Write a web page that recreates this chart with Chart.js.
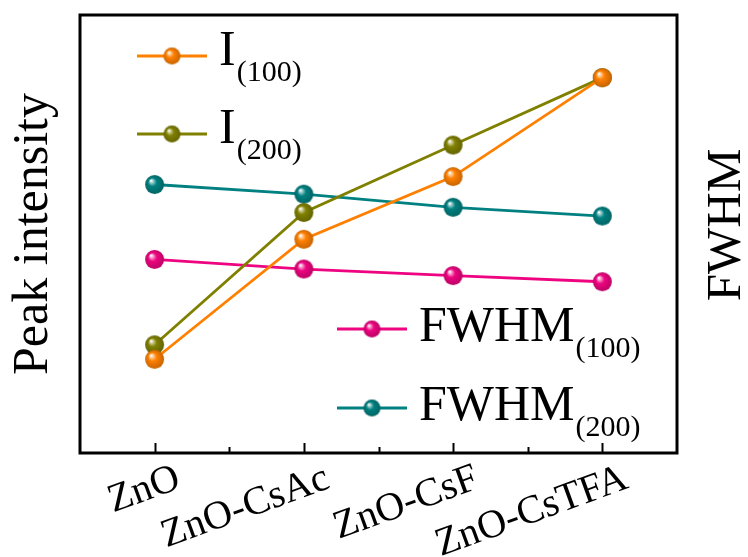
<!DOCTYPE html>
<html>
<head>
<meta charset="utf-8">
<script src="https://cdn.jsdelivr.net/npm/chart.js@4.4.1/dist/chart.umd.min.js"></script>
<style>
  html, body { margin: 0; padding: 0; background: #fff; }
  #wrap { width: 748px; height: 557px; }
</style>
</head>
<body>
<div id="wrap"><canvas id="c" width="748" height="557"></canvas></div>
<script>
// Samples on the x axis
const categories = ['ZnO', 'ZnO-CsAc', 'ZnO-CsF', 'ZnO-CsTFA'];

// Peak intensities (arb. units, left axis)
const intensity100 = [21.4, 48.8, 63.1, 85.7];
const intensity200 = [24.7, 54.9, 70.3, 85.7];

// FWHM (arb. units, right axis)
const fwhm100 = [44.2, 42.0, 40.5, 39.1];
const fwhm200 = [61.3, 59.1, 56.1, 54.1];

// Legend text: main part and subscript
const legendMain = ['I', 'I', 'FWHM', 'FWHM'];
const legendSub = ['(100)', '(200)', '(100)', '(200)'];

const SERIF = '"Liberation Serif", "Times New Roman", Times, serif';
const COLORS = ['#ff8000', '#808000', '#ee0480', '#008080'];
const LINE_W = 2.8;

function shade(hex, k) {
  const n = parseInt(hex.slice(1), 16);
  const r = Math.round(((n >> 16) & 255) * k);
  const g = Math.round(((n >> 8) & 255) * k);
  const b = Math.round((n & 255) * k);
  return `rgb(${r},${g},${b})`;
}
function tint(hex, k) {
  const n = parseInt(hex.slice(1), 16);
  const f = v => Math.round(v + (255 - v) * k);
  return `rgb(${f((n >> 16) & 255)},${f((n >> 8) & 255)},${f(n & 255)})`;
}

// Shaded ball used as the point marker
function sphere(color, r) {
  const s = Math.ceil(r * 2 + 2);
  const cv = document.createElement('canvas');
  cv.width = cv.height = s;
  const g = cv.getContext('2d');
  const c = s / 2;
  const grad = g.createRadialGradient(c - r * 0.38, c - r * 0.42, r * 0.04, c, c, r);
  grad.addColorStop(0, '#ffffff');
  grad.addColorStop(0.18, tint(color, 0.55));
  grad.addColorStop(0.42, color);
  grad.addColorStop(1, shade(color, 0.78));
  g.fillStyle = grad;
  g.beginPath();
  g.arc(c, c, r, 0, Math.PI * 2);
  g.fill();
  return cv;
}

const pointImgs = COLORS.map(c => sphere(c, 9.5));
const legendImgs = COLORS.map(c => sphere(c, 8.5));

function ds(data, i, axis) {
  return {
    data: data,
    yAxisID: axis,
    borderColor: COLORS[i],
    backgroundColor: COLORS[i],
    borderWidth: LINE_W,
    tension: 0,
    pointStyle: pointImgs[i],
    pointRadius: 9,
    pointHoverRadius: 9
  };
}

// Frame, inward ticks, legend with subscripts and the right-hand title
const decorations = {
  id: 'decorations',
  beforeDatasetsDraw(chart) {
    const { ctx, chartArea: a, scales: { x } } = chart;
    ctx.save();
    ctx.strokeStyle = '#000';
    ctx.lineWidth = 3;
    ctx.strokeRect(a.left, a.top, a.right - a.left, a.bottom - a.top);
    ctx.lineWidth = 2;
    ctx.beginPath();
    for (let i = 0; i < categories.length; i++) {
      const px = Math.round(x.getPixelForTick(i)) + 0.5;
      ctx.moveTo(px, a.bottom);
      ctx.lineTo(px, a.bottom - 10);
      if (i < categories.length - 1) {
        const mx = Math.round(x.getPixelForValue(i + 0.5)) + 0.5;
        ctx.moveTo(mx, a.bottom);
        ctx.lineTo(mx, a.bottom - 6);
      }
    }
    ctx.stroke();
    ctx.restore();
  },
  afterDraw(chart) {
    const { ctx, chartArea: a } = chart;
    ctx.save();
    // legend entries: [line start x, marker y, baseline shift]
    const spots = [
      [a.left + 57, a.top + 41, 9],
      [a.left + 57, a.top + 119, 9],
      [a.left + 257, a.top + 314, 12],
      [a.left + 257, a.top + 393, 12]
    ];
    spots.forEach(([lx, ly, bs], i) => {
      ctx.strokeStyle = COLORS[i];
      ctx.lineWidth = LINE_W;
      ctx.beginPath();
      ctx.moveTo(lx, ly);
      ctx.lineTo(lx + 70, ly);
      ctx.stroke();
      const img = legendImgs[i];
      ctx.drawImage(img, lx + 35 - img.width / 2, ly - img.height / 2);
      ctx.fillStyle = '#000';
      ctx.textBaseline = 'alphabetic';
      ctx.textAlign = 'left';
      ctx.font = `50px ${SERIF}`;
      const tx = lx + 82;
      ctx.fillText(legendMain[i], tx, ly + bs);
      const w = ctx.measureText(legendMain[i]).width;
      ctx.font = `30px ${SERIF}`;
      ctx.fillText(legendSub[i], tx + w + 1, ly + bs + 16);
    });
    // right axis title, reading upward
    ctx.translate(a.right + 63, (a.top + a.bottom) / 2 - 9);
    ctx.rotate(-Math.PI / 2);
    ctx.font = `49px ${SERIF}`;
    ctx.fillStyle = '#000';
    ctx.textAlign = 'center';
    ctx.textBaseline = 'alphabetic';
    ctx.fillText('FWHM', 0, 0);
    ctx.restore();
  }
};

new Chart(document.getElementById('c'), {
  type: 'line',
  data: {
    labels: categories,
    datasets: [
      ds(intensity100, 0, 'y'),
      ds(intensity200, 1, 'y'),
      ds(fwhm100, 2, 'y1'),
      ds(fwhm200, 3, 'y1')
    ]
  },
  options: {
    responsive: false,
    animation: false,
    events: [],
    layout: { autoPadding: false, padding: { top: 15, left: 0, right: 0, bottom: 0 } },
    plugins: { legend: { display: false }, tooltip: { enabled: false } },
    scales: {
      x: {
        type: 'category',
        offset: true,
        grid: { display: false, drawTicks: false },
        border: { display: false },
        ticks: {
          autoSkip: false,
          minRotation: 20,
          maxRotation: 20,
          labelOffset: 24,
          padding: 2,
          color: '#000',
          font: { family: SERIF, size: 40 }
        },
        afterFit(s) { s.height = 104; }
      },
      y: {
        position: 'left',
        min: 0,
        max: 100,
        ticks: { display: false },
        grid: { display: false, drawTicks: false },
        border: { display: false },
        title: {
          display: true,
          text: 'Peak intensity',
          color: '#000',
          font: { family: SERIF, size: 50 },
          padding: { top: 4, bottom: 0 }
        },
        afterFit(s) { s.width = 80; }
      },
      y1: {
        position: 'right',
        min: 0,
        max: 100,
        ticks: { display: false },
        grid: { display: false, drawTicks: false },
        border: { display: false },
        afterFit(s) { s.width = 71; }
      }
    }
  },
  plugins: [decorations]
});
</script>
</body>
</html>
